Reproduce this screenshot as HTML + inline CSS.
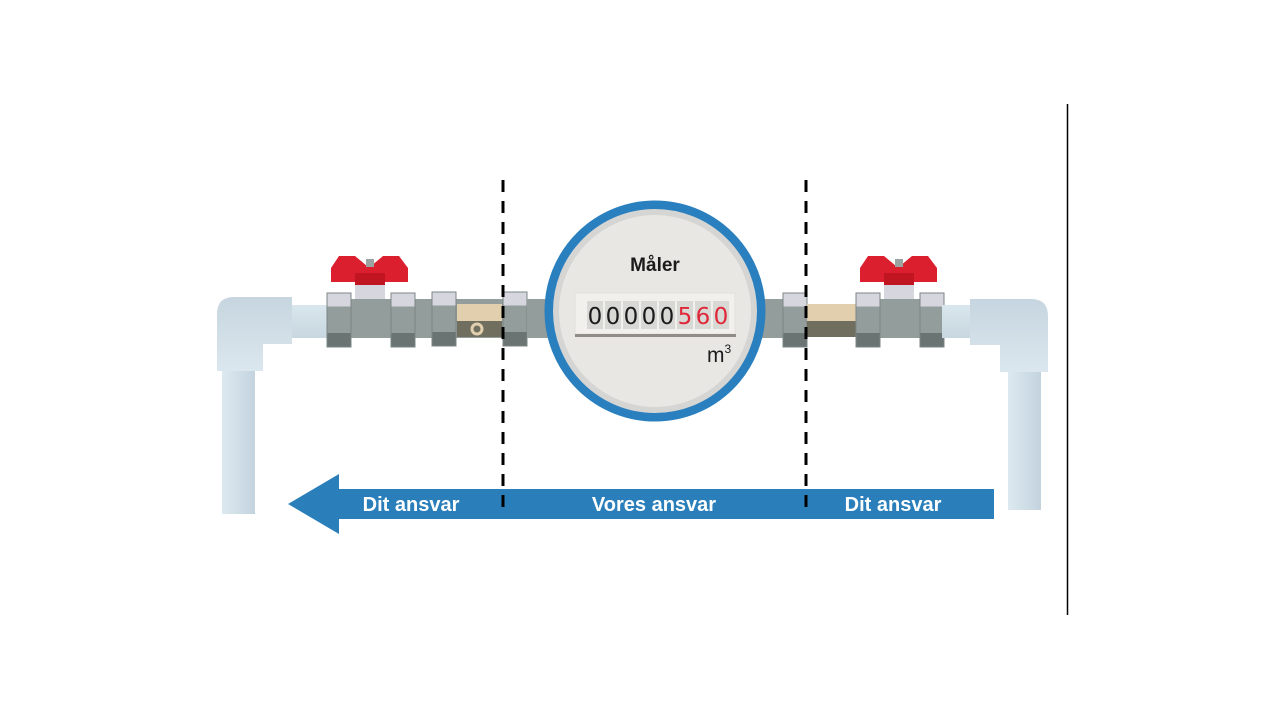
<!DOCTYPE html>
<html><head><meta charset="utf-8"><style>html,body{margin:0;padding:0;background:#fff}svg{display:block}</style></head>
<body>
<svg width="1280" height="720" viewBox="0 0 1280 720" xmlns="http://www.w3.org/2000/svg" font-family="'Liberation Sans','DejaVu Sans',sans-serif">
<defs>
<linearGradient id="pv" x1="0" y1="0" x2="1" y2="0"><stop offset="0" stop-color="#dde9f0"/><stop offset="1" stop-color="#c3d3de"/></linearGradient>
<linearGradient id="pe" x1="0" y1="0" x2="0" y2="1"><stop offset="0" stop-color="#c6d5df"/><stop offset="1" stop-color="#dbe7ee"/></linearGradient>
<linearGradient id="ph" x1="0" y1="0" x2="0" y2="1"><stop offset="0" stop-color="#d9e6ed"/><stop offset="1" stop-color="#c8d7e0"/></linearGradient>
<g id="nut"><rect x="0" y="0" width="24" height="54" fill="#939e9c" stroke="#7b8684" stroke-width="1"/><rect x="0.5" y="0.5" width="23" height="13" fill="#d6d6de"/><rect x="0.5" y="40" width="23" height="13.5" fill="#6a7472"/></g>
<g id="handle"><path d="M0 12 L8 0 H24 L36 10 L40 10 L52 0 H68 L77 12 V26 H0 Z" fill="#dc1f2e"/><rect x="24" y="17" width="30" height="12" fill="#c11521"/><rect x="24" y="29" width="30" height="14" fill="#d6d6de"/><rect x="35" y="3" width="8" height="8" fill="#9aa3a2"/></g>
</defs>
<!-- left pipes -->
<rect x="222" y="371" width="33" height="143" fill="url(#pv)"/>
<path d="M217 314 Q217 297 234 297 H292 V344 H263 V371 H217 Z" fill="url(#pe)"/>
<rect x="292" y="305" width="36" height="33" fill="url(#ph)"/>
<!-- left fittings -->
<rect x="348" y="299" width="180" height="39" fill="#939e9c"/>
<use href="#handle" x="331" y="256"/>
<use href="#nut" x="327" y="293"/>
<use href="#nut" x="391" y="293"/>
<use href="#nut" x="432" y="292"/>
<rect x="457" y="304" width="45" height="17" fill="#e1cfae"/>
<rect x="457" y="321" width="45" height="16" fill="#706e5f"/>
<circle cx="477" cy="329" r="5" fill="none" stroke="#e1cfae" stroke-width="3"/>
<use href="#nut" x="503" y="292"/>
<rect x="527" y="299" width="40" height="39" fill="#939e9c"/>
<!-- right fittings -->
<rect x="745" y="299" width="40" height="39" fill="#939e9c"/>
<use href="#nut" x="783" y="293"/>
<rect x="807" y="304" width="50" height="17" fill="#e1cfae"/>
<rect x="807" y="321" width="50" height="16" fill="#706e5f"/>
<rect x="878" y="299" width="44" height="39" fill="#939e9c"/>
<use href="#handle" x="860" y="256"/>
<use href="#nut" x="856" y="293"/>
<use href="#nut" x="920" y="293"/>
<rect x="942" y="305" width="30" height="33" fill="url(#ph)"/>
<path d="M970 299 H1031 Q1048 299 1048 316 V372 H1000 V345 H970 Z" fill="url(#pe)"/>
<rect x="1008" y="372" width="33" height="138" fill="url(#pv)"/>
<!-- meter -->
<circle cx="655" cy="311" r="106" fill="#e8e7e3" stroke="#2a7fbf" stroke-width="9"/>
<circle cx="655" cy="311" r="99" fill="none" stroke="#d5d5d4" stroke-width="6"/>
<text x="655" y="271" text-anchor="middle" font-size="19" font-weight="bold" fill="#1b1b1b">Måler</text>
<rect x="575" y="293" width="160" height="41" fill="#f1f0ec" stroke="#e2e1dc"/>
<g fill="#d8d8d5">
<rect x="587" y="301" width="16" height="28"/><rect x="605" y="301" width="16" height="28"/><rect x="623" y="301" width="16" height="28"/><rect x="641" y="301" width="16" height="28"/><rect x="659" y="301" width="16" height="28"/><rect x="677" y="301" width="16" height="28"/><rect x="695" y="301" width="16" height="28"/><rect x="713" y="301" width="16" height="28"/>
</g>
<g font-size="23" text-anchor="middle" font-family="'DejaVu Sans',sans-serif">
<text x="595" y="324" fill="#1b1b1b">0</text><text x="613" y="324" fill="#1b1b1b">0</text><text x="631" y="324" fill="#1b1b1b">0</text><text x="649" y="324" fill="#1b1b1b">0</text><text x="667" y="324" fill="#1b1b1b">0</text>
<text x="685" y="324" fill="#e0273a">5</text><text x="703" y="324" fill="#e0273a">6</text><text x="721" y="324" fill="#e0273a">0</text>
</g>
<rect x="575" y="334" width="161" height="3" fill="#8f8d86"/>
<text x="707" y="362" font-size="21" fill="#1b1b1b">m<tspan font-size="12" dy="-9">3</tspan></text>
<!-- arrow -->
<path d="M288 504 L339 474 V489 H994 V519 H339 V534 Z" fill="#2a7fbb"/>
<g font-size="20" font-weight="bold" fill="#fff" text-anchor="middle">
<text x="411" y="511">Dit ansvar</text>
<text x="654" y="511">Vores ansvar</text>
<text x="893" y="511">Dit ansvar</text>
</g>
<!-- dashed lines -->
<line x1="503" y1="180" x2="503" y2="515" stroke="#000" stroke-width="3" stroke-dasharray="12 9"/>
<line x1="806" y1="180" x2="806" y2="508" stroke="#000" stroke-width="3" stroke-dasharray="12 9"/>
<line x1="1067.5" y1="104" x2="1067.5" y2="615" stroke="#000" stroke-width="1.5"/>
</svg>
</body></html>
